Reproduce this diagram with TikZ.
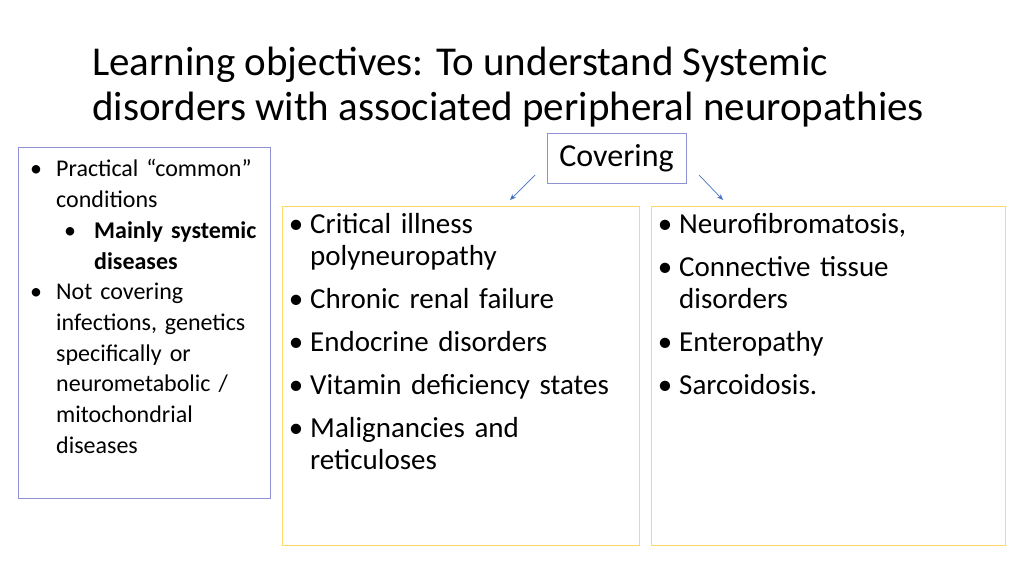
\documentclass[tikz,border=0pt]{standalone}
\usepackage{fontspec}
\setmainfont{Carlito}
\usepackage{enumitem}
\setlist{label=•}
\usetikzlibrary{arrows.meta}
\begin{document}
\begin{tikzpicture}[x=1pt,y=-1pt,
  bluebox/.style={draw=blue!45!gray!60, line width=0.8pt},
  yelbox/.style={draw={rgb,255:red,255;green,217;blue,102}, line width=0.8pt},
  conn/.style={-{Stealth[length=6pt,width=5pt]}, draw={rgb,255:red,68;green,114;blue,196}, line width=0.7pt},
  ttl/.style={anchor=base west, inner sep=0, font=\fontsize{41}{45}\selectfont}]
\useasboundingbox (0,0) rectangle (1024,576);
\node[ttl] (title1) at (92,75) {Learning objectives: To understand Systemic};
\node[ttl] (title2) at (92,120) {disorders with associated peripheral neuropathies};
\draw[bluebox] (18,147) rectangle (270,498);
\node[bluebox, fill=white, minimum width=139pt, minimum height=50pt, inner sep=0, font=\fontsize{32}{36}\selectfont] (cov) at (616.5,158) {Covering};
\node[yelbox, anchor=north west, minimum width=357pt, minimum height=339pt, inner sep=0] (mid) at (282,206) {};
\node[yelbox, anchor=north west, minimum width=354pt, minimum height=339pt, inner sep=0] (right) at (651,206) {};
\coordinate (a1) at (535,175); \coordinate (a2) at (699,175);
\draw[conn] (a1) -- (510,200);
\draw[conn] (a2) -- (723,200);
\node[anchor=north west, inner sep=0, text width=232pt, font=\fontsize{24}{30.7}\selectfont] (lt) at (25,146) {%
\begin{itemize}[leftmargin=31pt,labelsep=14pt,itemsep=0pt,topsep=0pt,parsep=0pt]\raggedright
\item Practical “common” conditions
\begin{itemize}[leftmargin=38pt,labelsep=18pt,itemsep=0pt,topsep=0pt,parsep=0pt]\raggedright
\item \textbf{Mainly systemic diseases}
\end{itemize}
\item Not covering infections, genetics specifically or neurometabolic / mitochondrial diseases
\end{itemize}};
\node[anchor=north west, inner sep=0, text width=340pt, font=\fontsize{29}{32}\selectfont] (mt) at (290,201) {%
\begin{itemize}[leftmargin=20pt,labelsep=7pt,itemsep=11pt,topsep=0pt,parsep=0pt]\raggedright
\item Critical illness\\polyneuropathy
\item Chronic renal failure
\item Endocrine disorders
\item Vitamin deficiency states
\item Malignancies and\\reticuloses
\end{itemize}};
\node[anchor=north west, inner sep=0, text width=340pt, font=\fontsize{29}{32}\selectfont] (rt) at (659,201) {%
\begin{itemize}[leftmargin=20pt,labelsep=7pt,itemsep=11pt,topsep=0pt,parsep=0pt]\raggedright
\item Neurofibromatosis,
\item Connective tissue\\disorders
\item Enteropathy
\item Sarcoidosis.
\end{itemize}};
\end{tikzpicture}
\end{document}
